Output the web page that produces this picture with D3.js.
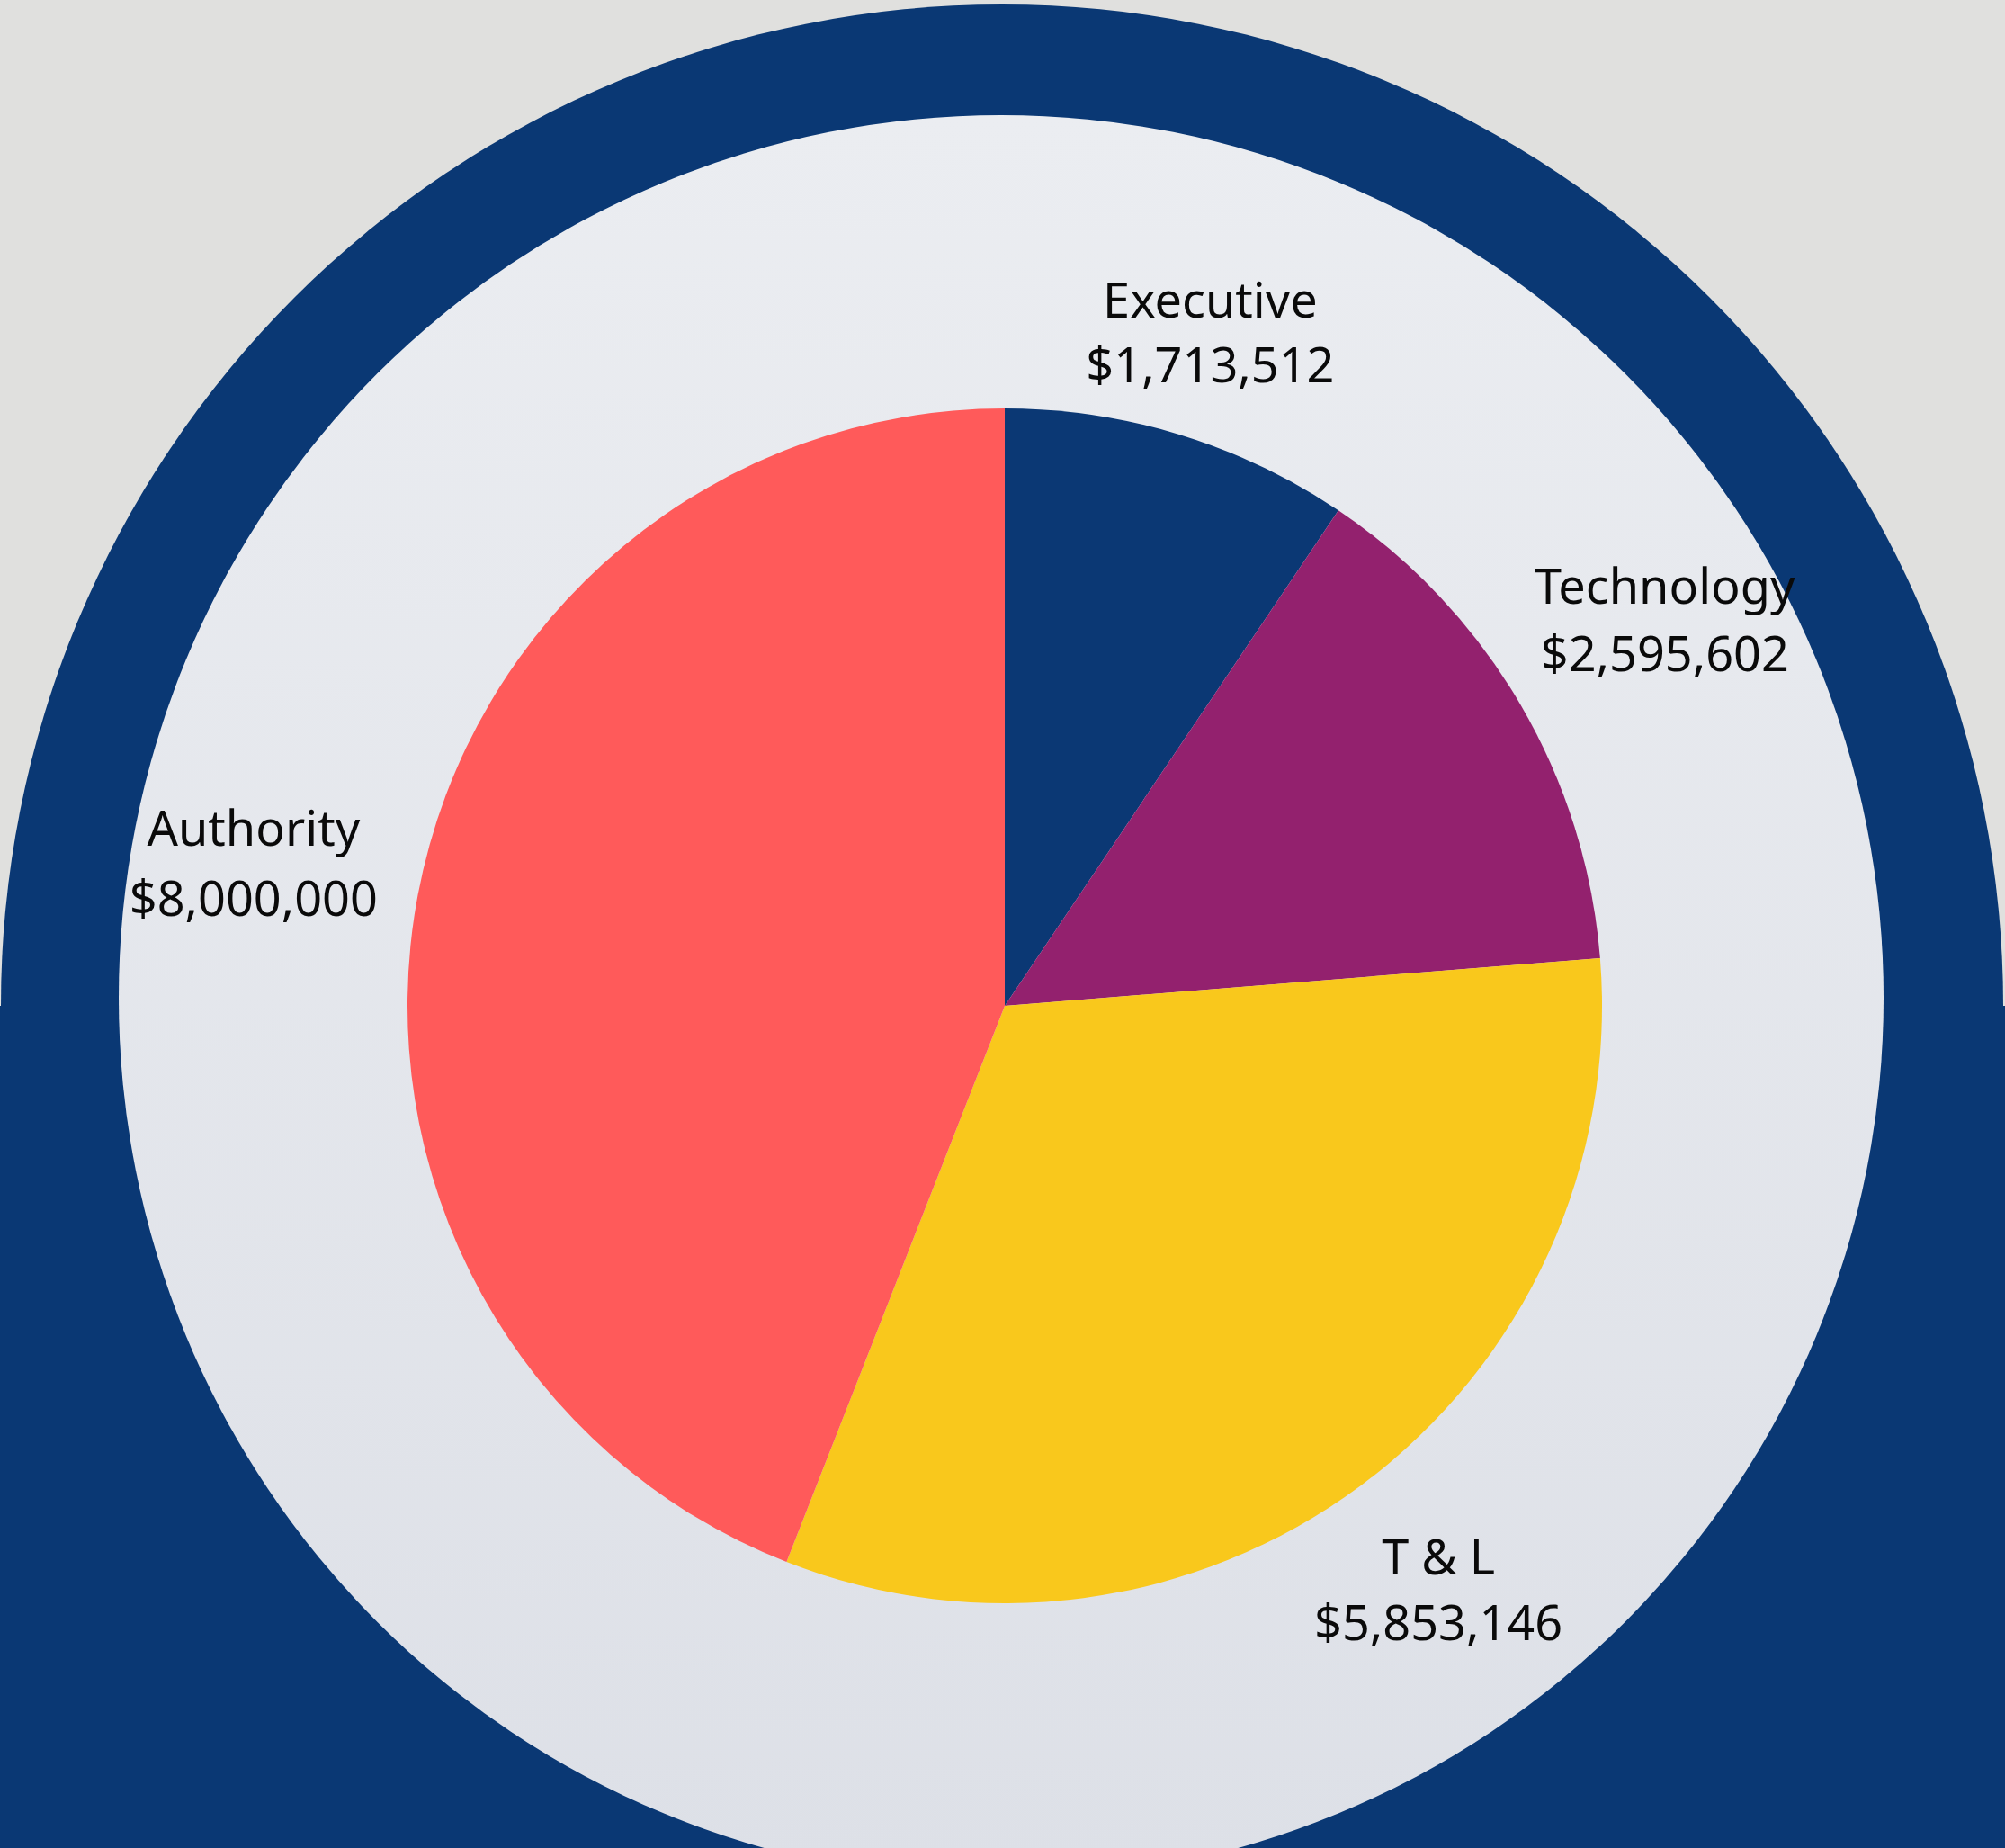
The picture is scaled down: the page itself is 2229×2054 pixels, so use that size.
<!DOCTYPE html>
<html>
<head>
<meta charset="utf-8">
<script src="https://cdn.jsdelivr.net/npm/d3@7"></script>
<style>
  html, body { margin: 0; padding: 0; background: #e0e0de; }
  svg { display: block; }
</style>
</head>
<body>
<script>
// ---- data ----
const categories = ["Executive", "Technology", "T & L", "Authority"];
const values = [1713512, 2595602, 5853146, 8000000];
const colors = ["#0b3874", "#93216e", "#f9c81c", "#ff5a5a"];

// ---- layout ----
const W = 2229, H = 2054;
const pieCx = 1117, pieCy = 1118, pieR = 664;
const labelRadius = [782, 850, 809, 850];
const lineGap = [72, 75, 73, 78];
const capH = 38;

const svg = d3.select("body").append("svg")
  .attr("width", W).attr("height", H);

const defs = svg.append("defs");
const grad = defs.append("linearGradient")
  .attr("id", "inner").attr("x1", 0).attr("y1", 0).attr("x2", 0).attr("y2", 1);
grad.append("stop").attr("offset", "0%").attr("stop-color", "#ebedf1");
grad.append("stop").attr("offset", "100%").attr("stop-color", "#dde0e7");

svg.append("rect").attr("width", W).attr("height", H).attr("fill", "#e0e0de");

// navy arch: circle + rectangle below center
const navy = "#0a3874";
svg.append("circle").attr("cx", 1114).attr("cy", 1118).attr("r", 1113).attr("fill", navy);
svg.append("rect").attr("x", 0).attr("y", 1118).attr("width", W).attr("height", H - 1118).attr("fill", navy);

// inner light disc
svg.append("circle").attr("cx", 1113).attr("cy", 1109).attr("r", 981).attr("fill", "url(#inner)");

// pie
const pie = d3.pie().sort(null).value(d => d)(values);
const arc = d3.arc().innerRadius(0).outerRadius(pieR);

const g = svg.append("g").attr("transform", `translate(${pieCx},${pieCy})`);
g.selectAll("path").data(pie).join("path")
  .attr("d", arc)
  .attr("fill", (d, i) => colors[i]);

const fmt = d3.format("$,");
const lg = g.append("g")
  .attr("font-family", "'Noto Sans', 'Open Sans', sans-serif")
  .attr("font-size", 54)
  .attr("fill", "#0a0a0a")
  .attr("text-anchor", "middle");

pie.forEach((d, i) => {
  const a = (d.startAngle + d.endAngle) / 2;
  const x = labelRadius[i] * Math.sin(a);
  const y = -labelRadius[i] * Math.cos(a);
  const nameBase = y - (lineGap[i] - capH) / 2;
  lg.append("text").attr("x", x).attr("y", nameBase).text(categories[i]);
  lg.append("text").attr("x", x).attr("y", nameBase + lineGap[i]).text(fmt(values[i]));
});
</script>
</body>
</html>
